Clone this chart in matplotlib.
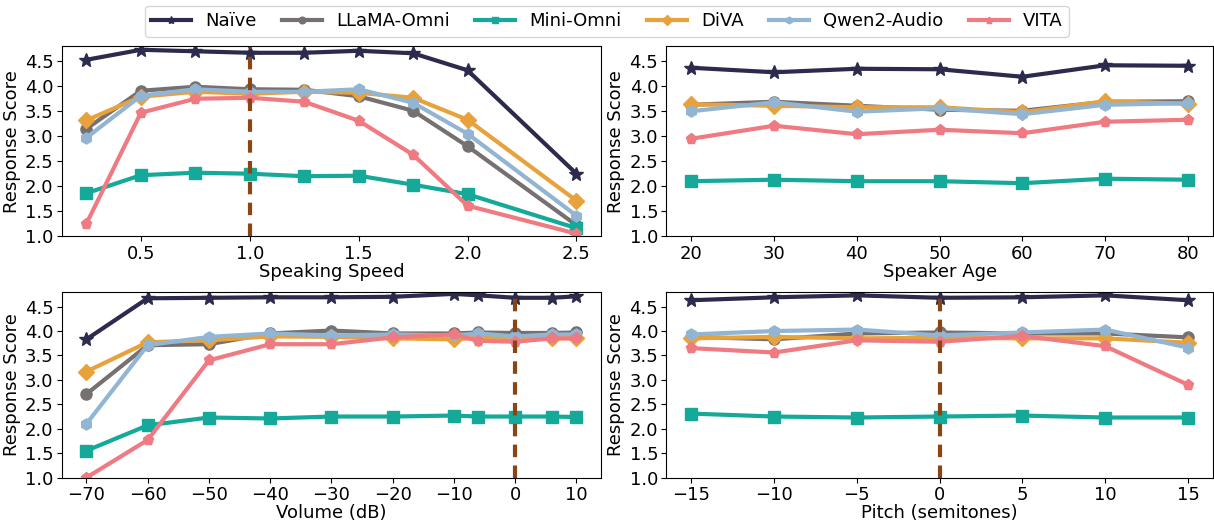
import matplotlib
matplotlib.use("Agg")
import matplotlib.pyplot as plt
import numpy as np

plt.rcParams['font.family'] = ['DejaVu Sans']
plt.rcParams['font.size'] = 13

models = ["Naïve", "LLaMA-Omni", "Mini-Omni", "DiVA", "Qwen2-Audio", "VITA"]
colors = ["#2d2b4d", "#767070", "#15a99a", "#e8a23c", "#91b5d2", "#ef7a82"]
markers = ["*", "o", "s", "D", "h", "p"]

# Speaking speed
speed_x = [0.25, 0.5, 0.75, 1.0, 1.25, 1.5, 1.75, 2.0, 2.5]
speed_naive = [4.53, 4.73, 4.70, 4.67, 4.67, 4.71, 4.66, 4.32, 2.25]
speed_llama = [3.15, 3.91, 3.99, 3.94, 3.93, 3.80, 3.51, 2.80, 1.22]
speed_mini = [1.86, 2.22, 2.27, 2.25, 2.20, 2.21, 2.03, 1.84, 1.16]
speed_diva = [3.32, 3.79, 3.89, 3.85, 3.89, 3.87, 3.77, 3.33, 1.71]
speed_qwen = [2.97, 3.81, 3.94, 3.89, 3.89, 3.94, 3.67, 3.05, 1.41]
speed_vita = [1.25, 3.47, 3.75, 3.77, 3.69, 3.31, 2.63, 1.61, 1.05]

# Speaker age
age_x = [20, 30, 40, 50, 60, 70, 80]
age_naive = [4.37, 4.28, 4.35, 4.34, 4.19, 4.42, 4.41]
age_llama = [3.63, 3.69, 3.61, 3.53, 3.51, 3.69, 3.70]
age_mini = [2.10, 2.13, 2.10, 2.10, 2.06, 2.15, 2.13]
age_diva = [3.64, 3.61, 3.58, 3.58, 3.48, 3.70, 3.65]
age_qwen = [3.50, 3.68, 3.49, 3.56, 3.44, 3.63, 3.66]
age_vita = [2.95, 3.21, 3.04, 3.13, 3.06, 3.29, 3.33]

# Volume
vol_x = [-70, -60, -50, -40, -30, -20, -10, -6, 0, 6, 10]
vol_naive = [3.83, 4.67, 4.68, 4.69, 4.69, 4.70, 4.76, 4.73, 4.68, 4.68, 4.71]
vol_llama = [2.71, 3.71, 3.73, 3.95, 4.01, 3.95, 3.95, 3.97, 3.96, 3.96, 3.97]
vol_mini = [1.55, 2.07, 2.23, 2.21, 2.25, 2.25, 2.27, 2.25, 2.25, 2.25, 2.24]
vol_diva = [3.17, 3.77, 3.81, 3.89, 3.88, 3.85, 3.83, 3.86, 3.85, 3.85, 3.85]
vol_qwen = [2.10, 3.71, 3.88, 3.95, 3.91, 3.93, 3.91, 3.95, 3.89, 3.93, 3.93]
vol_vita = [1.00, 1.77, 3.40, 3.73, 3.73, 3.87, 3.93, 3.80, 3.78, 3.85, 3.85]

# Pitch
pitch_x = [-15, -10, -5, 0, 5, 10, 15]
pitch_naive = [4.63, 4.69, 4.73, 4.68, 4.69, 4.73, 4.63]
pitch_llama = [3.88, 3.83, 3.95, 3.97, 3.95, 3.95, 3.87]
pitch_mini = [2.31, 2.25, 2.23, 2.25, 2.27, 2.23, 2.23]
pitch_diva = [3.85, 3.88, 3.85, 3.86, 3.85, 3.85, 3.76]
pitch_qwen = [3.93, 4.00, 4.03, 3.91, 3.97, 4.03, 3.66]
pitch_vita = [3.65, 3.56, 3.81, 3.78, 3.90, 3.69, 2.90]

panels = [
    (speed_x, [speed_naive, speed_llama, speed_mini, speed_diva, speed_qwen, speed_vita], "Speaking Speed", 1.0, [0.5, 1.0, 1.5, 2.0, 2.5]),
    (age_x, [age_naive, age_llama, age_mini, age_diva, age_qwen, age_vita], "Speaker Age", None, [20, 30, 40, 50, 60, 70, 80]),
    (vol_x, [vol_naive, vol_llama, vol_mini, vol_diva, vol_qwen, vol_vita], "Volume (dB)", 0, [-70, -60, -50, -40, -30, -20, -10, 0, 10]),
    (pitch_x, [pitch_naive, pitch_llama, pitch_mini, pitch_diva, pitch_qwen, pitch_vita], "Pitch (semitones)", 0, [-15, -10, -5, 0, 5, 10, 15]),
]

fig = plt.figure(figsize=(12.14, 5.26), dpi=100)
positions = [
    [0.051, 0.551, 0.444, 0.361],
    [0.549, 0.551, 0.450, 0.361],
    [0.051, 0.092, 0.444, 0.353],
    [0.549, 0.092, 0.450, 0.353],
]

handles = []
for i, (x, series, xlabel, vline, xticks) in enumerate(panels):
    ax = fig.add_axes(positions[i])
    for j, ys in enumerate(series):
        ms = 10 if markers[j] == "*" else 8
        h, = ax.plot(x, ys, color=colors[j], marker=markers[j], lw=3.0,
                     markersize=ms, label=models[j])
        if i == 0:
            handles.append(h)
    if vline is not None:
        ax.axvline(vline, color="#8B4513", ls="--", lw=3, dashes=(3, 2))
    ax.set_ylim(1.0, 4.8)
    ax.set_yticks([1.0, 1.5, 2.0, 2.5, 3.0, 3.5, 4.0, 4.5])
    ax.set_xticks(xticks)
    ax.set_xlabel(xlabel, labelpad=0)
    ax.set_ylabel("Response Score", labelpad=3)
    ax.tick_params(labelsize=13, pad=2.5)

fig.legend(handles=handles, labels=models, loc="upper center",
           bbox_to_anchor=(0.5, 1.006), ncol=6, fontsize=13,
           handlelength=2.2, columnspacing=1.4, markerscale=0.6,
           borderpad=0.35)

fig.savefig("out.png", dpi=100)
